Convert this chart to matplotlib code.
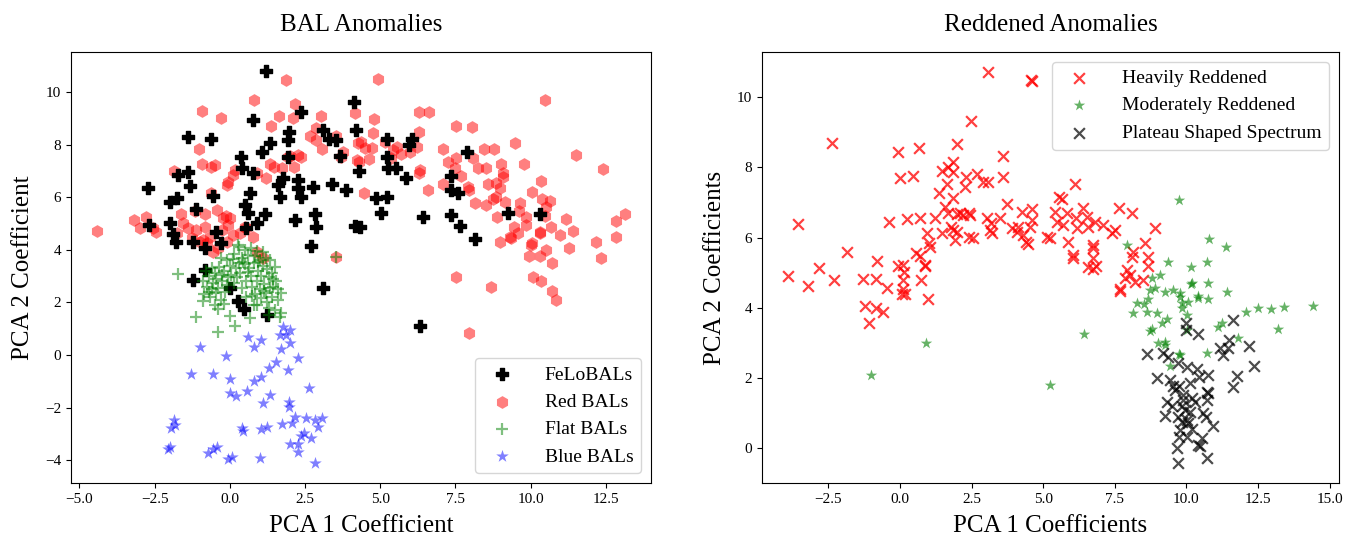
import numpy as np
import matplotlib
matplotlib.use("Agg")
import matplotlib.pyplot as plt

plt.rcParams["font.family"] = "serif"
plt.rcParams["font.serif"] = ["Liberation Serif", "DejaVu Serif"]
plt.rcParams["mathtext.fontset"] = "stix"

# -----------------------------
# DATA
# -----------------------------
# left panel: BAL anomalies
felo_x = [1.19, 4.13, 2.38, 0.77, 4.19, 1.97, -1.38, -0.61, 3.10, 3.30, 3.54, 1.35, 1.94, 1.07,
          0.37, 0.39, 1.92, 3.65, -1.38, -1.72, 0.77, -1.33, -2.71, 1.77, 1.60, 2.27, 2.27, 2.75,
          3.41, 3.85, 0.66, -0.55, 1.66, 2.38, -1.77, -1.99, 0.50, -1.11, 0.61, 1.16, 2.82, 2.16,
          0.89, -1.99, -2.68, 2.86, 4.15, -0.47, 0.55, -1.88, -1.79, -1.22, 2.71,
          5.24, 6.04, 5.96, 5.21, 5.26, 5.54, 4.30, 5.85, 7.90, 7.34, 7.34, 7.59, 4.87, 5.24, 5.04,
          6.42, 7.34, 7.64, 4.34, 9.25, 10.30, 8.14, 6.31,
          -0.83, -1.24, -0.81, 0.00, 0.28, 0.48, 1.22, 3.10, -0.28]
felo_y = [10.81, 9.63, 9.23, 8.94, 8.56, 8.49, 8.30, 8.20, 8.56, 8.20, 8.17, 8.07, 8.17, 7.73,
          7.54, 7.10, 7.54, 7.57, 6.97, 6.84, 6.93, 6.43, 6.34, 6.72, 6.46, 6.65, 6.34, 6.40,
          6.50, 6.27, 6.15, 6.05, 6.02, 6.00, 5.96, 5.83, 5.70, 5.54, 5.39, 5.36, 5.36, 5.13,
          5.01, 5.03, 4.94, 4.86, 4.90, 4.69, 4.82, 4.59, 4.31, 4.31, 4.14,
          8.20, 8.20, 7.98, 7.52, 7.10, 7.10, 7.01, 6.74, 7.73, 6.81, 6.27, 6.15, 5.96, 6.02, 5.39,
          5.26, 5.32, 4.90, 4.86, 5.39, 5.35, 4.40, 1.10,
          4.06, 2.85, 3.23, 2.54, 2.07, 1.74, 1.52, 2.54, 4.25]

red_x = [1.86, 0.81, 2.16, -0.91, -0.29, 1.63, 2.10, 3.02, 4.15, 1.38, 2.86, 2.66, 2.88, 3.08,
         3.52, 3.76, 3.71, -1.02, -0.91, -0.61, -0.48, -1.86, 0.17, 0.09, -0.06, -0.11, 0.89,
         1.20, 1.33, 1.46, 1.74, 1.99, 2.25, 2.38, 2.13, 1.94, 4.26, 4.24, -0.63, -1.63, -1.16,
         -0.81, -0.44, -0.13, 0.02, -0.22, -3.19, -2.80, -2.97, -2.55, -2.44, -4.40, -1.55, -1.38,
         -1.77, -1.11, -0.83, -0.66, -0.26, -0.06, 0.11, 0.53, -1.27, -1.00, -0.77, -0.11,
         -0.55, -0.39, 0.50, 1.11, 3.54, 0.89, 0.33, 0.77, -0.89,
         4.91, 10.49, 6.28, 6.62, 4.79, 4.76, 6.28, 7.51, 8.06, 4.35, 4.49, 4.71, 5.15, 5.43,
         5.56, 5.70, 6.00, 6.22, 4.63, 4.30, 5.37, 6.31, 6.28, 6.59, 4.45, 7.07, 8.45, 8.77,
         9.47, 11.52, 12.40, 9.78, 7.25, 7.53, 8.08, 7.48, 8.25, 8.50, 9.00, 9.08, 9.08, 7.70,
         7.07, 7.92, 8.58, 8.84, 8.97, 10.36, 10.06, 8.86, 7.95, 8.14, 8.53, 8.75, 9.16, 9.66,
         10.39, 10.65, 10.52, 9.61, 8.89, 9.83, 10.47, 11.19, 13.12, 12.85, 10.68, 11.41, 10.96,
         9.44, 9.58, 9.86, 10.30, 9.36, 8.97, 10.06, 12.16, 12.82,
         9.30, 10.30, 10.02, 10.52, 11.27, 12.35, 9.94, 10.32, 10.72, 10.08, 10.36, 10.71, 10.83,
         8.69, 7.51, 7.95]
red_y = [10.46, 9.70, 9.53, 9.29, 9.02, 9.09, 9.02, 9.09, 9.19, 8.71, 8.62, 8.33, 8.17, 7.83,
         8.33, 7.73, 7.54, 7.83, 7.26, 7.14, 7.22, 7.00, 7.03, 6.84, 6.59, 6.46, 6.93,
         6.74, 7.26, 7.14, 7.10, 7.57, 7.60, 7.52, 7.14, 7.52, 8.05, 7.41, 6.15, 5.35, 5.48,
         5.36, 5.51, 5.29, 5.20, 5.20, 5.13, 5.24, 4.82, 4.82, 4.69, 4.73, 5.01, 4.82,
         4.65, 4.75, 4.88, 4.50, 4.75, 4.94, 4.56, 4.84, 4.44, 4.31, 4.25, 4.31,
         3.93, 4.06, 4.88, 3.68, 3.71, 3.93, 4.63, 4.50, 4.37,
         10.49, 9.70, 9.25, 9.25, 8.97, 8.43, 8.47, 8.72, 8.65, 8.11, 7.86, 7.86, 8.11, 7.79,
         7.92, 7.64, 7.73, 7.90, 7.44, 7.35, 7.48, 7.03, 6.93, 6.27, 6.15, 7.82, 7.82, 7.82,
         8.05, 7.60, 7.07, 7.25, 7.35, 7.48, 7.48, 7.10, 7.10, 7.12, 7.25, 6.93, 6.78, 6.81,
         6.50, 6.40, 6.50, 6.53, 6.34, 6.63, 6.19, 6.02, 6.27, 5.77, 5.70, 5.92, 5.83, 5.79,
         5.93, 5.87, 5.64, 5.49, 5.26, 5.26, 5.29, 5.17, 5.35, 5.11, 4.88, 4.71, 4.56,
         4.88, 4.63, 4.94, 4.69, 4.44, 4.31, 4.25, 4.31, 4.50,
         4.50, 4.63, 4.18, 3.99, 4.06, 3.70, 3.76, 3.76, 3.49, 2.98, 2.81, 2.45, 2.09,
         2.60, 2.98, 0.82]

flat_x = [0.30, 0.50, 0.70, 0.90, 1.10, 0.15, 0.60, 0.85, 1.20, 1.35, -0.30, -0.10, 0.10, 0.40,
          1.00, -0.80, -0.60, -0.50, -0.35, -0.20, 0.00, 0.20, 0.35, 0.50, 0.65, 0.80, 0.95,
          1.10, 1.25, 1.40, 1.50, -0.70, -0.45, 0.05, 0.70, 1.05, 1.30, -0.90, -0.75, -0.55,
          -0.40, -0.25, -0.10, 0.15, 0.55, 0.75, 0.90, 1.15, 1.35, 1.55, 1.60, -0.60, 1.00,
          -0.85, -0.65, -0.45, -0.30, -0.15, 0.85, 1.05, 1.20, 1.40, 1.60, 1.70, -0.90, -0.50,
          -0.20, 0.90, 1.30, 1.50, 1.70, 1.66, 1.30, -0.39, 0.00, 0.66, -1.11, 0.17, -0.41,
          -1.72, 0.80, 0.27, 3.54, 0.45, 0.25, -0.05, 1.45, 0.60, 0.95, 1.15, -0.70, 0.30,
          0.75, 1.45, -0.25, 0.40, 1.25, 0.55]
flat_y = [4.10, 4.00, 4.05, 3.95, 3.90, 3.85, 3.80, 3.75, 3.70, 3.60, 3.70, 3.60, 3.65, 3.70,
          3.60, 3.20, 3.30, 3.10, 3.35, 3.20, 3.40, 3.30, 3.10, 3.45, 3.30, 3.50, 3.20,
          3.40, 3.25, 3.10, 3.35, 3.00, 2.90, 3.05, 3.00, 3.00, 2.95, 2.80, 2.60, 2.75,
          2.55, 2.80, 2.65, 2.75, 2.80, 2.60, 2.80, 2.70, 2.55, 2.80, 2.50, 2.50, 2.50,
          2.30, 2.20, 2.35, 2.10, 2.40, 2.30, 2.15, 2.35, 2.20, 2.10, 2.35, 2.05, 1.90,
          1.95, 1.90, 1.80, 1.70, 1.60, 1.46, 1.50, 1.74, 1.48, 1.39, 1.46, 1.10, 0.86,
          3.07, 1.90, 4.18, 3.71, 3.55, 2.95, 2.95, 2.90, 3.15, 3.55, 2.45, 2.40, 3.50,
          2.25, 2.60, 3.05, 2.55, 2.00, 2.20]

blue_x = [1.77, 1.99, 1.88, 1.66, 1.99, 0.61, 1.05, 0.80, -1.00, 1.69, -0.14, 2.25, 1.55, 1.31,
          1.94, -1.30, -0.55, 1.05, 0.00, 0.81, 2.63, 0.57, 1.35, 0.00, 0.22, 1.11, 1.97, 1.97,
          2.16, 2.52, 2.82, 3.05, 2.93, 1.75, 2.08, -1.86, -1.83, -1.94, 0.42, 0.44, 1.05, 1.24,
          2.47, 2.71, 2.38, 1.99, 2.27, 2.27, -1.99, -2.05, -0.72, -0.57, -0.44, -0.06, 0.06,
          1.00, 2.82]
blue_y = [1.08, 0.95, 0.76, 0.76, 0.47, 0.67, 0.57, 0.29, 0.32, 0.22, -0.04, -0.10, -0.25, -0.51,
          -0.57, -0.72, -0.72, -0.85, -0.92, -1.01, -1.27, -1.39, -1.52, -1.46, -1.55, -1.84,
          -1.78, -1.97, -2.35, -2.38, -2.47, -2.41, -2.73, -2.62, -2.60, -2.47, -2.66, -2.79,
          -2.79, -2.89, -2.83, -2.73, -2.98, -3.17, -3.08, -3.38, -3.38, -3.68, -3.49, -3.59,
          -3.74, -3.59, -3.49, -3.97, -3.89, -3.93, -4.12]

# right panel: reddened anomalies
heavy_x = [3.08, 4.60, 4.58, 2.47, -2.36, 1.98, -0.08, 0.65, 3.58, 0.00, 0.47, 1.84, 1.69, 1.46,
           1.86, 2.29, 2.68, 2.91, 3.08, 3.61, 1.65, 2.27, 1.37, 1.86, 1.57, 3.73, -3.55, -0.37,
           0.23, 0.70, 1.22, 1.69, 1.98, 2.21, 2.42, 3.03, 3.18, 3.49, 4.25, 4.60, 4.60, 1.46,
           1.78, 1.98, 1.92, 2.42, 2.56, 0.93, 1.02, 1.05, 3.20, 3.90, 4.07, 4.31, 4.41, 4.47,
           5.14, -1.84, -0.81, 0.56, 0.70, 0.87, -2.82,
           -3.90, -3.22, -2.30, -1.30, -0.85, -1.22, -0.85, -0.60, -1.07, -0.46, -0.06, 0.12,
           0.14, 0.12, 0.12, 0.06, 0.17, 0.72, 0.87, 0.99,
           6.11, 5.56, 5.64, 7.66, 8.09, 6.40, 5.41, 5.82, 6.15, 6.52, 6.81, 7.10, 5.47, 5.70,
           6.17, 6.58, 7.51, 7.39, 2.09, 2.44, 4.13, 4.54, 3.14, 1.86, 5.24, 5.88, 6.75, 6.75,
           6.05, 6.05, 6.75, 6.86, 6.58, 6.75, 8.09, 7.91, 7.86, 7.68, 8.03, 8.21,
           8.90, 8.55, 8.14, 8.67, 8.67, 8.49, 7.68]
heavy_y = [10.73, 10.46, 10.48, 9.33, 8.69, 8.66, 8.43, 8.55, 8.33, 7.71, 7.77, 8.17, 8.02, 7.90,
           7.88, 7.74, 7.81, 7.60, 7.58, 7.74, 7.53, 7.45, 7.26, 7.12, 6.88, 6.96, 6.39, 6.44,
           6.53, 6.55, 6.55, 6.70, 6.68, 6.65, 6.70, 6.55, 6.41, 6.55, 6.74, 6.81, 6.50, 6.12,
           6.31, 6.17, 5.93, 6.03, 5.98, 6.12, 5.86, 5.74, 6.12, 6.27, 6.17, 6.08, 5.89, 5.82,
           6.01, 5.58, 5.34, 5.56, 5.48, 5.22, 5.13,
           4.91, 4.62, 4.78, 4.81, 4.81, 4.05, 3.99, 3.87, 3.58, 4.58, 5.19, 5.22,
           5.03, 4.79, 4.53, 4.39, 4.39, 4.78, 5.19, 4.24,
           7.53, 7.15, 7.09, 6.84, 6.71, 6.84, 6.74, 6.70, 6.55, 6.60, 6.46, 6.36, 6.46, 6.36,
           6.27, 6.31, 6.22, 6.13, 6.70, 6.65, 6.31, 6.31, 6.22, 6.22, 5.98, 5.89, 5.79, 5.70,
           5.51, 5.41, 5.41, 5.19, 5.16, 5.10, 5.46, 5.08, 4.84, 4.53, 4.94, 4.75,
           6.27, 5.84, 5.60, 5.46, 5.19, 4.79, 4.49]

moderate_x = [5.24, 6.42, -1.01, 0.90, 9.75, 7.91, 10.80, 11.38, 9.37, 10.16, 10.71, 10.15, 9.08,
              8.79, 8.73, 8.90, 9.25, 9.54, 9.78, 10.42, 10.77, 10.19, 8.67, 9.78, 9.84, 9.84,
              10.07, 10.42, 10.77, 11.43, 12.09, 12.51, 12.94, 13.41, 14.43, 13.21, 11.82, 11.23,
              11.12, 10.71, 8.29, 8.52, 8.61, 8.15, 8.96, 9.31, 9.14, 8.79, 8.73, 10.01, 10.01,
              9.02, 9.25, 9.78, 9.43, 9.75, 9.25]
moderate_y = [1.80, 3.26, 2.09, 2.99, 7.07, 5.79, 5.95, 5.73, 5.32, 5.17, 5.32, 4.68, 4.94,
              4.84, 4.51, 4.56, 4.46, 4.51, 4.42, 4.34, 4.70, 4.70, 4.25, 4.32, 4.13, 3.99,
              4.18, 4.29, 4.25, 4.46, 3.89, 3.99, 3.96, 4.02, 4.05, 3.39, 3.13, 3.56,
              3.45, 2.71, 4.15, 4.11, 3.89, 3.85, 3.85, 3.68, 3.56, 3.39, 3.35, 3.80, 3.37,
              2.99, 2.94, 2.66, 2.33, 2.69, 3.04]

plateau_x = [9.99, 9.99, 10.42, 11.17, 8.61, 9.19, 9.37, 9.72, 10.01, 10.36, 10.45, 10.77, 8.96,
             9.43, 9.54, 9.75, 10.13, 9.89, 10.19, 10.30, 10.73, 10.73, 9.31, 9.49, 9.84, 9.95,
             10.59, 10.68, 9.25, 9.72, 9.84, 10.07, 10.94, 9.78, 10.19, 9.75, 10.01, 10.53, 9.66,
             10.42, 10.71, 9.72, 9.89, 9.60, 10.13, 10.01,
             11.64, 11.50, 11.29, 11.46, 12.20, 12.36, 11.76, 11.64, 10.47, 10.77]
plateau_y = [3.58, 3.37, 3.26, 2.85, 2.69, 2.71, 2.61, 2.44, 2.31, 2.25, 2.04, 2.09, 1.99,
             1.95, 1.77, 1.77, 1.85, 1.52, 1.42, 1.33, 1.61, 1.38, 1.33, 1.19, 1.19, 1.09,
             1.00, 0.90, 0.92, 0.90, 0.76, 0.71, 0.62, 0.52, 0.54, 0.33, 0.33, 0.28, 0.00,
             0.09, -0.28, -0.41, 1.38, 1.66, 1.04, 0.81,
             3.66, 3.09, 2.66, 2.85, 2.91, 2.33, 2.06, 1.75, 0.05, 1.57]

# -----------------------------
# PLOT
# -----------------------------
fig = plt.figure(figsize=(13.58, 5.38), dpi=100)
ax1 = fig.add_axes([71 / 1358, 55 / 538, 580 / 1358, 431 / 538])
ax2 = fig.add_axes([762 / 1358, 55 / 538, 577 / 1358, 431 / 538])

ax1.scatter(felo_x, felo_y, marker="P", s=80, color="k", label="FeLoBALs", zorder=3)
ax1.scatter(red_x, red_y, marker="h", s=85, color="red", alpha=0.5, linewidths=0,
            label="Red BALs", zorder=2)
ax1.scatter(flat_x, flat_y, marker="+", s=80, color="green", alpha=0.5, linewidths=1.6,
            label="Flat BALs", zorder=4)
ax1.scatter(blue_x, blue_y, marker="*", s=90, color="blue", alpha=0.5, linewidths=0,
            label="Blue BALs", zorder=2)

ax1.set_xlim(-5.28, 14.0)
ax1.set_ylim(-4.87, 11.52)
ax1.set_title("BAL Anomalies", fontsize=18, pad=15)
ax1.set_xlabel("PCA 1 Coefficient", fontsize=18, labelpad=7)
ax1.set_ylabel("PCA 2 Coefficient", fontsize=18, labelpad=8)
ax1.tick_params(labelsize=11)
ax1.legend(loc="lower right", fontsize=14, handletextpad=1.2, labelspacing=0.5)

ax2.scatter(heavy_x, heavy_y, marker="x", s=60, color="red", alpha=0.75, linewidths=1.6,
            label="Heavily Reddened")
ax2.scatter(moderate_x, moderate_y, marker="*", s=75, color="green", alpha=0.6, linewidths=0,
            label="Moderately Reddened")
ax2.scatter(plateau_x, plateau_y, marker="x", s=60, color="k", alpha=0.7, linewidths=1.6,
            label="Plateau Shaped Spectrum")

ax2.set_xlim(-4.82, 15.33)
ax2.set_ylim(-0.99, 11.29)
ax2.set_title("Reddened Anomalies", fontsize=18, pad=15)
ax2.set_xlabel("PCA 1 Coefficients", fontsize=18, labelpad=7)
ax2.set_ylabel("PCA 2 Coefficients", fontsize=18, labelpad=8)
ax2.tick_params(labelsize=11)
ax2.legend(loc="upper right", fontsize=14, handletextpad=1.2, labelspacing=0.5)

fig.savefig("out.png", dpi=100)
